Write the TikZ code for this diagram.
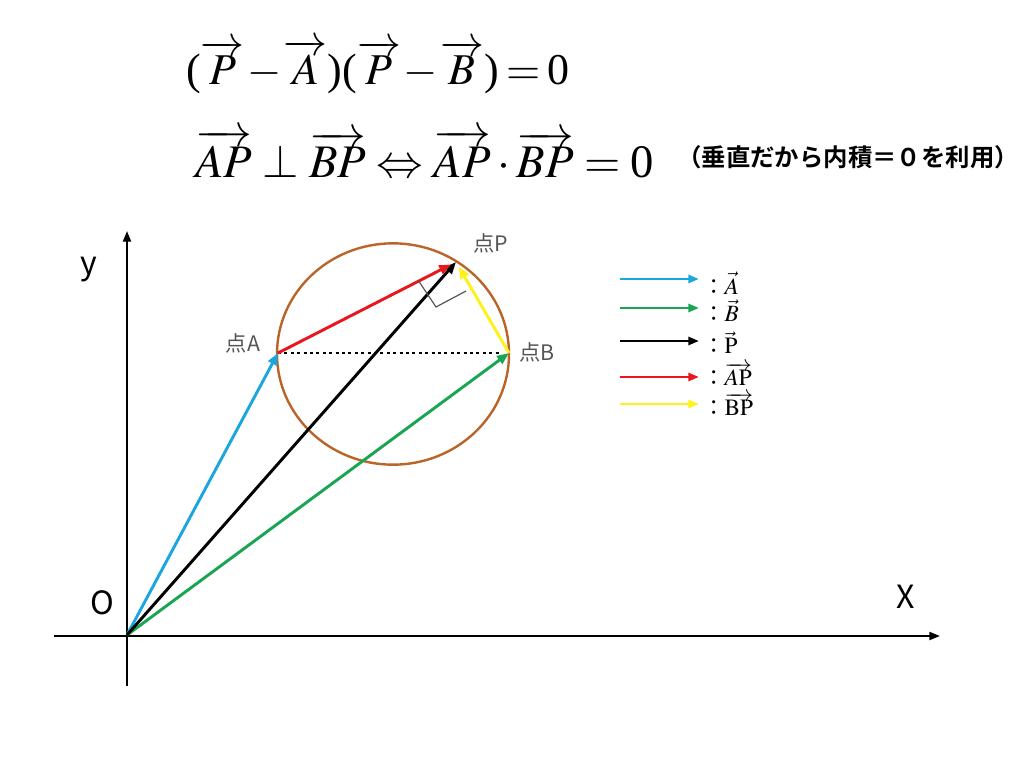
\documentclass[tikz,border=0pt]{standalone}
\usepackage{mathptmx}
\usepackage[no-math]{fontspec}
\newfontfamily\cjk{Noto Sans CJK JP}
\newfontfamily\cjkb{Noto Sans CJK JP Bold}
\newfontfamily\tms{Liberation Serif}
\usetikzlibrary{arrows.meta,calc,shapes.geometric}
\definecolor{cblue}{HTML}{1BA6E0}
\definecolor{cgreen}{HTML}{19A552}
\definecolor{cred}{HTML}{E8171E}
\definecolor{cyel}{HTML}{FFF21A}
\definecolor{cbrown}{HTML}{BA6428}
\definecolor{cgray}{HTML}{555555}
\newcommand{\tz}{\hbox{\tms 0}}
\newcommand{\tlp}{\hbox{\tms (}}
\newcommand{\trp}{\hbox{\tms )}}
\tikzset{
  vecarrow/.style={line width=2.2pt,-{Triangle[length=9pt,width=7pt]}},
  legarrow/.style={line width=2.2pt,-{Triangle[length=8pt,width=6pt]}},
  axis/.style={line width=1.5pt,-{Triangle[length=8pt,width=6pt]}},
  ptlabel/.style={font=\cjk\fontsize{16}{18}\selectfont,text=cgray,inner sep=0pt},
  axlabel/.style={font=\cjk\fontsize{24}{28}\selectfont,inner sep=0pt},
  leglabel/.style={font=\fontsize{17.5}{20}\selectfont,anchor=west,inner sep=0pt},
}
\begin{document}
\begin{tikzpicture}[x=0.75pt,y=-0.75pt]
\useasboundingbox (0,0) rectangle (1024,768);
% equations
\node[anchor=base west,inner sep=0pt,font=\fontsize{33}{40}\selectfont] (eq1) at (186,84)
  {$\medmuskip=1mu\thickmuskip=3mu\tlp\overrightarrow{P}-\overrightarrow{A}\trp\tlp\overrightarrow{P}-\overrightarrow{B}\trp=\tz$};
\node[anchor=base west,inner sep=0pt,font=\fontsize{35}{40}\selectfont] (eq2) at (195,177)
  {$\overrightarrow{AP}\perp\overrightarrow{BP}\Leftrightarrow\overrightarrow{AP}\cdot\overrightarrow{BP}=\tz$};
\node[anchor=west,inner sep=0pt,font=\cjkb\fontsize{18.3}{20}\selectfont] (note) at (677,157)
  {（垂直だから内積＝０を利用）};
% axes
\coordinate (O) at (127,635);
\coordinate (ybot) at (127,686);
\coordinate (ytop) at (127,231);
\coordinate (xleft) at (54,636);
\coordinate (xright) at (940,636);
\draw[axis] (ybot) -- (ytop);
\draw[axis] (xleft) -- (xright);
\node[axlabel] (ylab) at (89,270) {y};
\node[axlabel] (xlab) at (906,597) {X};
\node[axlabel] (olab) at (102,603) {O};
% circle
\node[draw=cbrown,line width=1.8pt,ellipse,minimum width=174pt,minimum height=166pt,inner sep=0pt] (circ) at (393,354) {};
% points
\coordinate (A) at (278,353);
\coordinate (B) at (509,353);
\coordinate (P) at (456,262);
\draw[line width=2.2pt,dash pattern=on 2.2pt off 2.6pt,shorten >=6pt] (A) -- (B);
\draw[vecarrow,cblue] (O) -- (A);
\draw[vecarrow,cgreen] (O) -- (B);
\draw[vecarrow,black] (O) -- (P);
\draw[vecarrow,cred,shorten >=4pt] (A) -- (P);
\draw[vecarrow,cyel,shorten >=4pt] (B) -- (P);
% right angle mark
\coordinate (m1) at (418,280);
\coordinate (mc) at (436,307);
\coordinate (m2) at (466,291);
\draw[cgray,line width=0.9pt] (m1) -- (mc) -- (m2);
\node[ptlabel] (lP) at (491,243) {点P};
\node[ptlabel] (lA) at (243,343) {点A};
\node[ptlabel] (lB) at (537,352) {点B};
% legend
\coordinate (l1a) at (620,279); \coordinate (l1b) at (699,279);
\coordinate (l2a) at (620,308); \coordinate (l2b) at (699,308);
\coordinate (l3a) at (620,341); \coordinate (l3b) at (699,341);
\coordinate (l4a) at (620,377); \coordinate (l4b) at (699,377);
\coordinate (l5a) at (620,404); \coordinate (l5b) at (699,404);
\draw[legarrow,cblue] (l1a) -- (l1b);
\draw[legarrow,cgreen] (l2a) -- (l2b);
\draw[legarrow,black] (l3a) -- (l3b);
\draw[legarrow,cred] (l4a) -- (l4b);
\draw[legarrow,cyel] (l5a) -- (l5b);
\node[leglabel] (t1) at (703,283) {{\cjk\fontsize{16}{18}\selectfont ：}$\vec{A}$};
\node[leglabel] (t2) at (703,311) {{\cjk\fontsize{16}{18}\selectfont ：}$\vec{B}$};
\node[leglabel] (t3) at (703,343) {{\cjk\fontsize{16}{18}\selectfont ：}$\vec{\mathrm{P}}$};
\node[leglabel] (t4) at (703,374) {{\cjk\fontsize{16}{18}\selectfont ：}$\overrightarrow{A\mathrm{P}}$};
\node[leglabel] (t5) at (703,404) {{\cjk\fontsize{16}{18}\selectfont ：}$\overrightarrow{\mathrm{BP}}$};
\end{tikzpicture}
\end{document}
